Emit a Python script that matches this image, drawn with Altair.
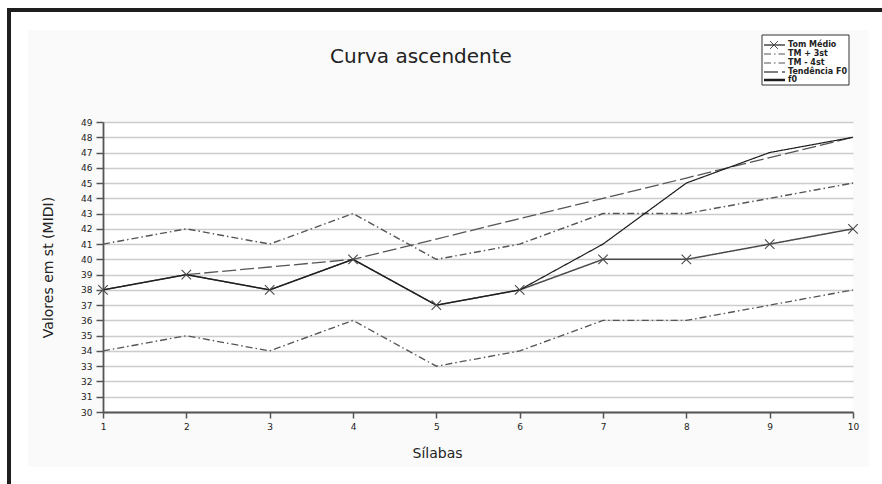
import altair as alt
import pandas as pd

# ---------------- data ----------------
silabas = [1, 2, 3, 4, 5, 6, 7, 8, 9, 10]
tom_medio = [38, 39, 38, 40, 37, 38, 40, 40, 41, 42]
tm_mais_3 = [41, 42, 41, 43, 40, 41, 43, 43, 44, 45]
tm_menos_4 = [34, 35, 34, 36, 33, 34, 36, 36, 37, 38]
tendencia = [None, 39, 39.5, 40, 41.33, 42.67, 44, 45.33, 46.67, 48]
f0 = [38, 39, 38, 40, 37, 38, 41, 45, 47, 48]

series_names = ["Tom Médio", "TM + 3st", "TM - 4st", "Tendência F0", "f0"]
series_values = [tom_medio, tm_mais_3, tm_menos_4, tendencia, f0]
y_ticks = list(range(30, 50))

title_text = "Curva ascendente"
x_title = "Sílabas"
y_title = "Valores em st (MIDI)"

rows = []
for name, vals in zip(series_names, series_values):
    for s, v in zip(silabas, vals):
        if v is not None:
            rows.append({"silaba": s, "valor": v, "serie": name})
df = pd.DataFrame(rows)
df_tm = df[df["serie"] == "Tom Médio"]

FONT = "DejaVu Sans"
W, H = 750, 290

dash_range = [[1, 0], [7, 3, 1.5, 3], [7, 3, 1.5, 3], [14, 4], [1, 0]]
width_range = [1.5, 1.2, 1.2, 1.3, 2.5]
color_range = ["#4a4a4a", "#555555", "#555555", "#555555", "#1c1c1c"]

xaxis = alt.Axis(values=silabas, title=x_title, grid=False, format="d",
                 labelFont=FONT, labelFontSize=9, labelColor="#222",
                 labelPadding=4, tickSize=6, tickColor="#555", tickWidth=1.5,
                 labelFlush=False, labelOverlap=False,
                 domainColor="#555", domainWidth=1.8,
                 titleFont=FONT, titleFontSize=14, titleFontWeight="normal",
                 titleColor="#222", titleX=334, titleY=41,
                 titleBaseline="middle", titleAlign="center")
yaxis = alt.Axis(values=y_ticks, tickCount=20, title=y_title, grid=True, format="d",
                 gridColor="#cccccc", gridWidth=1.5,
                 labelFont=FONT, labelFontSize=9, labelColor="#222",
                 labelPadding=4, tickSize=7, tickColor="#555", tickWidth=1.5,
                 labelFlush=False, labelOverlap=False,
                 domainColor="#555", domainWidth=1.8,
                 titleFont=FONT, titleFontSize=14, titleFontWeight="normal",
                 titleColor="#222", titleX=-55, titleY=145, titleAngle=-90,
                 titleBaseline="middle", titleAlign="center")
xscale = alt.Scale(domain=[1, 10], nice=False)
yscale = alt.Scale(domain=[30, 49], nice=False, zero=False)
xenc = alt.X("silaba:Q", scale=xscale, axis=xaxis)
yenc = alt.Y("valor:Q", scale=yscale, axis=yaxis)

dummy = pd.DataFrame({"a": [0]})


def rect(x1, x2, y1, y2, color):
    return alt.Chart(dummy).mark_rect(color=color).encode(
        x=alt.value(x1), x2=alt.value(x2), y=alt.value(y1), y2=alt.value(y2))


# decorations: white margins around the light panel, and the outer frame
decor = [
    rect(-103, -75, -122, 362, "#ffffff"),
    rect(766, 779, -122, 362, "#ffffff"),
    rect(-103, 779, -122, -92, "#ffffff"),
    rect(-103, 779, 345, 362, "#ffffff"),
    rect(-96, 779, -114, -110, "#1e1e1e"),
    rect(-96, -92, -114, 362, "#1e1e1e"),
]

lines = alt.Chart(df).mark_line(clip=False).encode(
    x=xenc, y=yenc,
    detail="serie:N",
    order=alt.Order("silaba:Q"),
    strokeDash=alt.StrokeDash("serie:N", scale=alt.Scale(domain=series_names, range=dash_range), legend=None),
    strokeWidth=alt.StrokeWidth("serie:N", scale=alt.Scale(domain=series_names, range=width_range), legend=None),
    color=alt.Color("serie:N", scale=alt.Scale(domain=series_names, range=color_range), legend=None),
)

xpath = "M-1,-1L1,1M1,-1L-1,1"
markers = alt.Chart(df_tm).mark_point(shape=xpath, filled=False, size=90,
                                      color="#4a4a4a", strokeWidth=1.1, opacity=1).encode(
    x=xenc, y=yenc)

title = alt.Chart(dummy).mark_text(text=title_text, font=FONT, fontSize=20,
                                   color="#222", align="center", baseline="alphabetic").encode(
    x=alt.value(318), y=alt.value(-59))

# legend (drawn)
legend_layers = [alt.Chart(dummy).mark_rect(fill="#ffffff", stroke="#333", strokeWidth=1).encode(
    x=alt.value(659), x2=alt.value(746), y=alt.value(-87), y2=alt.value(-37))]
row_y = [-77, -68, -59, -50, -42]
for i, name in enumerate(series_names):
    legend_layers.append(alt.Chart(dummy).mark_rule(
        strokeDash=dash_range[i], strokeWidth=width_range[i], color=color_range[i]).encode(
        x=alt.value(661), x2=alt.value(682), y=alt.value(row_y[i])))
    legend_layers.append(alt.Chart(dummy).mark_text(
        text=name, font=FONT, fontSize=8, fontWeight="bold", color="#222",
        align="left", baseline="middle").encode(
        x=alt.value(685), y=alt.value(row_y[i])))
legend_layers.append(alt.Chart(dummy).mark_point(
    shape=xpath, filled=False, size=60, color="#4a4a4a", strokeWidth=1, opacity=1).encode(
    x=alt.value(671), y=alt.value(row_y[0])))

chart = alt.layer(*decor, lines, markers, title, *legend_layers).properties(
    width=W, height=H,
    autosize=alt.AutoSizeParams(type="none"),
    padding={"left": 103, "top": 122, "right": 29, "bottom": 72},
    background="#fafafa",
).configure_view(stroke=None, fill="#ffffff")

chart.save("out.html", embed_options={"renderer": "svg", "actions": False})
